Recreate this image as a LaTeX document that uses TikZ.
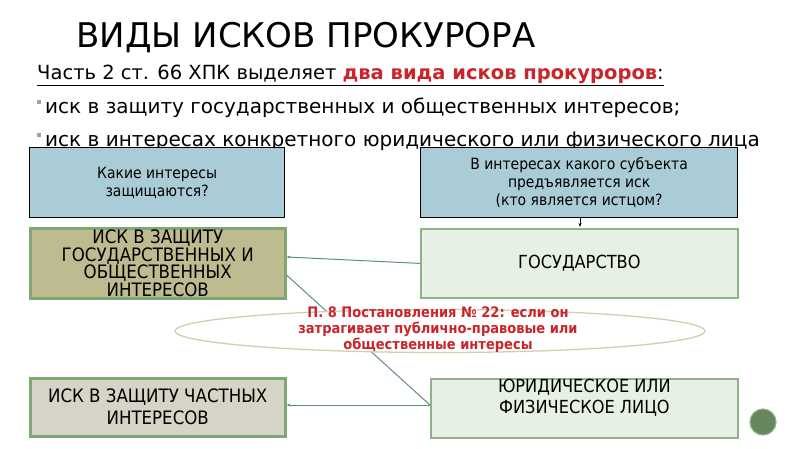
\documentclass[tikz,border=0pt]{standalone}
\usepackage{fontspec}
\setmainfont{DejaVu Sans}
\newfontfamily\cond{DejaVu Sans Condensed}
\usetikzlibrary{arrows.meta,shapes.geometric}
\definecolor{hdr}{HTML}{A9CCD6}
\definecolor{olive}{HTML}{BDBB8F}
\definecolor{oliveb}{HTML}{7FA772}
\definecolor{pale}{HTML}{E6F0E3}
\definecolor{paleb}{HTML}{8DB28A}
\definecolor{grayb}{HTML}{C8C4B4}
\definecolor{redt}{HTML}{C9252B}
\definecolor{conn}{HTML}{5F8E80}
\begin{document}
\begin{tikzpicture}[x=1pt,y=-1pt,
  qbox/.style={draw=black,line width=1.3pt,fill=hdr,minimum width=255pt,minimum height=70pt,anchor=north west,font=\cond\fontsize{15.5}{18}\selectfont,align=center,inner sep=0pt},
  gbox/.style={draw=oliveb,line width=2.5pt,minimum width=255pt,anchor=north west,font=\cond\fontsize{18.5}{16.5}\selectfont,align=center,inner sep=0pt},
  pbox/.style={draw=paleb,line width=1.8pt,fill=pale,anchor=north west,font=\cond\fontsize{18}{21}\selectfont,align=center,inner sep=0pt},
  con/.style={conn,line width=1pt,-{Stealth[length=4pt,width=3pt]}},
  bul/.style={fill=paleb,minimum size=4pt,inner sep=0pt}]
\useasboundingbox (0,0) rectangle (800,449);
\node[anchor=west,font=\fontsize{34}{36}\selectfont] (title) at (73,38) {ВИДЫ ИСКОВ ПРОКУРОРА};
\node[anchor=west,font=\fontsize{19.5}{20}\selectfont,inner sep=0pt] (l1) at (37,75) {\underline{Часть 2 ст. 66 ХПК выделяет \textcolor{redt}{\textbf{два вида исков прокуроров}}:}};
\node[bul] (b1) at (39,102) {};
\node[anchor=west,font=\fontsize{20}{20}\selectfont,inner sep=0pt] (l2) at (45,108) {иск в защиту государственных и общественных интересов;};
\node[bul] (b2) at (39,135) {};
\node[anchor=west,font=\fontsize{20}{20}\selectfont,inner sep=0pt] (l3) at (45,141) {иск в интересах конкретного юридического или физического лица};
\node[qbox] (q1) at (29,147) {Какие интересы\\защищаются?};
\node[qbox,minimum width=317pt] (q2) at (420,147) {В интересах какого субъекта\\предъявляется иск\\(кто является истцом?};
\node[gbox,fill=olive,minimum height=70pt] (g1) at (29,227) {ИСК В ЗАЩИТУ\\ГОСУДАРСТВЕННЫХ И\\ОБЩЕСТВЕННЫХ\\ИНТЕРЕСОВ};
\node[gbox,fill=grayb!75,minimum height=58pt,font=\cond\fontsize{18.5}{22}\selectfont] (g2) at (29,377) {ИСК В ЗАЩИТУ ЧАСТНЫХ\\ИНТЕРЕСОВ};
\node[pbox,minimum width=317pt,minimum height=69pt] (p1) at (420,228) {ГОСУДАРСТВО};
\node[pbox,minimum width=307pt,minimum height=55pt] (p2) at (430,378) {ЮРИДИЧЕСКОЕ ИЛИ\\ФИЗИЧЕСКОЕ ЛИЦО\\[4pt]};
\draw[con] (p1.west) -- (g1.east |- 0,257);
\draw[conn,line width=1pt] (g1.east |- 0,275) -- (p2.west |- 0,405);
\draw[con] (p2.west |- 0,405) -- (g2.east |- 0,405);
\draw[-{Stealth[length=4pt,width=3pt]},line width=0.8pt] (580,218) -- (580,227);
\node[draw=olive!70!white,line width=1.3pt,fill=white,ellipse,minimum width=530pt,minimum height=43pt,inner sep=0pt] (e) at (440,331) {};
\node[font=\cond\bfseries\fontsize{14.5}{16}\selectfont,text=redt,align=center,inner sep=0pt] (et) at (438,330) {П. 8 Постановления № 22: если он\\затрагивает публично-правовые или\\общественные интересы};
\node[circle,draw=paleb,fill=oliveb!80!black,minimum width=22pt,minimum height=26pt,inner sep=0pt,line width=1.2pt] (c) at (763,422) {};
\end{tikzpicture}
\end{document}
